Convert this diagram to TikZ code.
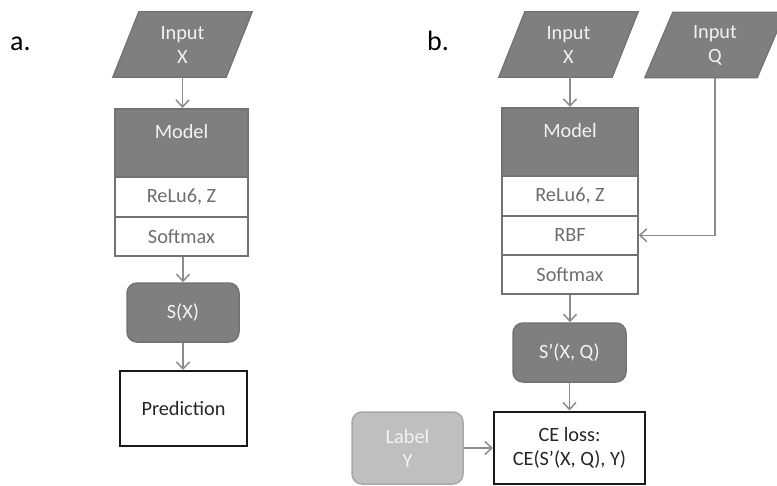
\documentclass[tikz,border=0pt]{standalone}
\usepackage{fontspec}
\setmainfont{Carlito}
\usetikzlibrary{arrows.meta,backgrounds}
\definecolor{darkfill}{HTML}{7F7F7F}
\definecolor{edgegray}{HTML}{737373}
\definecolor{lighttext}{HTML}{F2F2F2}
\definecolor{boxtext}{HTML}{6E6E6E}
\definecolor{arrgray}{HTML}{8C8C8C}
\definecolor{labfill}{HTML}{BFBFBF}
\definecolor{labedge}{HTML}{A8A8A8}
\definecolor{blacktext}{HTML}{262626}
\begin{document}
\begin{tikzpicture}[x=1pt,y=-1pt,
  txt/.style={font=\fontsize{20.3}{24}\selectfont},
  paranode/.style={txt, draw=none, minimum width=139pt, minimum height=65pt, inner sep=0pt, align=center, text=lighttext},
  parashape/.style={draw=edgegray, fill=darkfill, line width=1.3pt, line join=miter},
  stackbox/.style={txt, draw=edgegray, line width=1.5pt, inner sep=0pt, anchor=north, text=boxtext},
  modelbox/.style={stackbox, fill=darkfill, minimum height=68pt,
     label={[txt, text=lighttext, anchor=center, yshift=-24pt]north:Model}},
  outbox/.style={txt, draw=edgegray, fill=darkfill, line width=1.5pt, rounded corners=10pt, text=lighttext, inner sep=0pt},
  resbox/.style={txt, draw=black!90, line width=2pt, inner sep=0pt, text=blacktext, align=center},
  labbox/.style={txt, draw=labedge, fill=labfill, line width=1.5pt, rounded corners=10pt, text=lighttext, inner sep=0pt, align=center},
  arr/.style={draw=arrgray, line width=1.5pt, -{Straight Barb[length=7pt,width=13pt,line width=1.5pt]}},
  panel/.style={font=\fontsize{28}{32}\selectfont, text=black, inner sep=0pt, anchor=base west}
]
\useasboundingbox (0,0) rectangle (777,485);

% ---------- panel a ----------
\node[panel] (pa) at (10,50) {a.};
\node[paranode] (inXa) at (182.5,44.5) {Input\\X};
\node[modelbox, minimum width=133pt] (modA) at (181.5,108) {};
\node[stackbox, minimum width=133pt, minimum height=40pt] (reluA) at (181.5,176) {ReLu6, Z};
\node[stackbox, minimum width=133pt, minimum height=39pt] (softA) at (181.5,216) {Softmax};
\node[outbox, minimum width=112pt, minimum height=59pt] (sxA) at (183,312.5) {S(X)};
\node[resbox, minimum width=127pt, minimum height=75pt] (predA) at (183.5,408.5) {Prediction};

% ---------- panel b ----------
\node[panel] (pb) at (427,50) {b.};
\node[paranode] (inXb) at (568.5,44.5) {Input\\X};
\node[paranode, minimum width=140pt] (inQ) at (715,45) {Input\\Q};
\node[modelbox, minimum width=136pt] (modB) at (570,107) {};
\node[stackbox, minimum width=136pt, minimum height=40pt] (reluB) at (570,175) {ReLu6, Z};
\node[stackbox, minimum width=136pt, minimum height=39pt] (rbfB) at (570,215) {RBF};
\node[stackbox, minimum width=136pt, minimum height=39pt] (softB) at (570,254) {Softmax};
\node[outbox, minimum width=113pt, minimum height=59pt] (sxB) at (569.5,352.5) {S’(X, Q)};
\node[resbox, minimum width=151pt, minimum height=72pt] (ceB) at (569.5,447.5) {CE loss:\\CE(S’(X, Q), Y)};
\node[labbox, minimum width=111pt, minimum height=72pt] (labY) at (407.5,448) {Label\\Y};

\begin{scope}[on background layer]
  \foreach \n/\s in {inXa/26, inXb/26, inQ/28}{
    \draw[parashape] (\n.south west) -- ([xshift=-\s pt]\n.south east) -- (\n.north east) -- ([xshift=\s pt]\n.north west) -- cycle;
  }
\end{scope}

% ---------- connectors ----------
\draw[arr] (inXa.south) -- (inXa.south |- modA.north);
\draw[arr] (sxA.north |- softA.south) -- (sxA.north);
\draw[arr] (sxA.south) -- (predA.north -| sxA.south);

\draw[arr] (inXb.south -| modB.north) -- (modB.north);
\draw[arr] (inQ.south) |- (rbfB.east);
\draw[arr] (softB.south) -- (sxB.north -| softB.south);
\draw[arr] (sxB.south) -- (ceB.north -| sxB.south);
\draw[arr] (labY.east) -- (labY.east -| ceB.west);
\end{tikzpicture}
\end{document}
